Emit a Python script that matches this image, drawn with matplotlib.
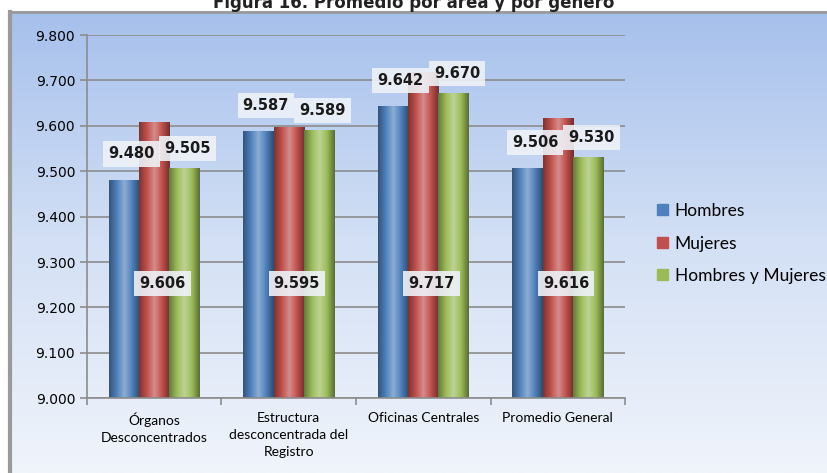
import numpy as np
import matplotlib.pyplot as plt
from matplotlib.colors import LinearSegmentedColormap, to_rgb

categories = ['Órganos\nDesconcentrados', 'Estructura\ndesconcentrada del\nRegistro',
              'Oficinas Centrales', 'Promedio General']
hombres = [9.480, 9.587, 9.642, 9.506]
mujeres = [9.606, 9.595, 9.717, 9.616]
ambos = [9.505, 9.589, 9.670, 9.530]
series = ['Hombres', 'Mujeres', 'Hombres y Mujeres']
colors = ['#4f81bd', '#c0504d', '#9bbb59']

fig = plt.figure(figsize=(8.28, 4.73), dpi=100)

# background gradient + frame
bg = fig.add_axes([0, 0, 1, 1], zorder=-10)
grad = np.linspace(0, 1, 256).reshape(-1, 1)
bgcmap = LinearSegmentedColormap.from_list('bg', ['#a6c0ec', '#d3e0f5', '#f0f4fb'])
bg.imshow(grad, aspect='auto', cmap=bgcmap, extent=[0.012, 1, 0, 0.975])
bg.plot([0.012, 0.012], [0, 0.975], color='#9a9a9a', lw=3)
bg.plot([0.012, 1], [0.975, 0.975], color='#9a9a9a', lw=2)
bg.set_xlim(0, 1)
bg.set_ylim(0, 1)
bg.axis('off')
fig.text(0.5, 0.995, 'Figura 16. Promedio por área y por género', ha='center', va='center',
         fontsize=12, fontweight='bold', color='#222222')

ax = fig.add_axes([0.105, 0.158, 0.65, 0.768])
ax.patch.set_alpha(0)
ax.set_ylim(9.0, 9.8)
ax.set_xlim(-0.5, 3.5)
ax.set_yticks(np.arange(9.0, 9.81, 0.1))
ax.set_yticklabels([f'{v:.3f}' for v in np.arange(9.0, 9.81, 0.1)], fontsize=10)
ax.yaxis.grid(True, color='#8c8c8c', lw=1.2)
ax.set_axisbelow(True)
ax.set_xticks(np.arange(len(categories)))
ax.set_xticklabels(categories, fontsize=10, family='Lato', linespacing=1.5)
ax.tick_params(axis='x', length=0, pad=10)
ax.set_xticks(np.arange(-0.5, 4, 1), minor=True)
ax.tick_params(axis='x', which='minor', length=5, color='#8c8c8c', width=1.2)
ax.tick_params(axis='y', length=5, color='#8c8c8c', width=1.2)
for s in ['top', 'right']:
    ax.spines[s].set_visible(False)
for s in ['left', 'bottom']:
    ax.spines[s].set_color('#8c8c8c')
    ax.spines[s].set_linewidth(1.2)

w = 0.225
x = np.arange(len(categories))


def shade(c):
    r = np.array(to_rgb(c))
    dark = r * 0.65
    light = np.minimum(r + (1 - r) * 0.35, 1)
    return LinearSegmentedColormap.from_list('s', [dark, r, light, r, dark * 0.9])


for i, (vals, col, name) in enumerate(zip([hombres, mujeres, ambos], colors, series)):
    xs = x + (i - 1) * w
    bars = ax.bar(xs, vals, w, bottom=0, color=col, label=name, zorder=2)
    cm = shade(col)
    hg = np.linspace(0, 1, 64).reshape(1, -1)
    for b in bars:
        b.set_facecolor('none')
        ax.imshow(hg, aspect='auto', cmap=cm, zorder=2,
                  extent=[b.get_x(), b.get_x() + w, 9.0, b.get_height()])
ax.set_xlim(-0.5, 3.5)
ax.set_ylim(9.0, 9.8)

box = dict(boxstyle='square,pad=0.35', fc='#eef2f8', ec='none', alpha=0.9)
for j in range(len(categories)):
    ax.text(x[j] - 0.17, hombres[j] + 0.058, f'{hombres[j]:.3f}', ha='center', va='center',
            fontsize=10.5, fontweight='bold', color='#1a1a1a', bbox=box, zorder=5)
    ax.text(x[j] + 0.25, ambos[j] + 0.045, f'{ambos[j]:.3f}', ha='center', va='center',
            fontsize=10.5, fontweight='bold', color='#1a1a1a', bbox=box, zorder=5)
    ax.text(x[j] + 0.06, 9.252, f'{mujeres[j]:.3f}', ha='center', va='center',
            fontsize=10.5, fontweight='bold', color='#1a1a1a', bbox=box, zorder=5)

handles = [plt.Rectangle((0, 0), 1, 1, color=c) for c in colors]
fig.legend(handles, series, loc='center left', bbox_to_anchor=(0.775, 0.485), frameon=False,
           prop={'family': 'Lato', 'size': 12.5}, handlelength=0.6, handleheight=0.6,
           handletextpad=0.4, labelspacing=0.95)

fig.savefig('out.png', dpi=100)
